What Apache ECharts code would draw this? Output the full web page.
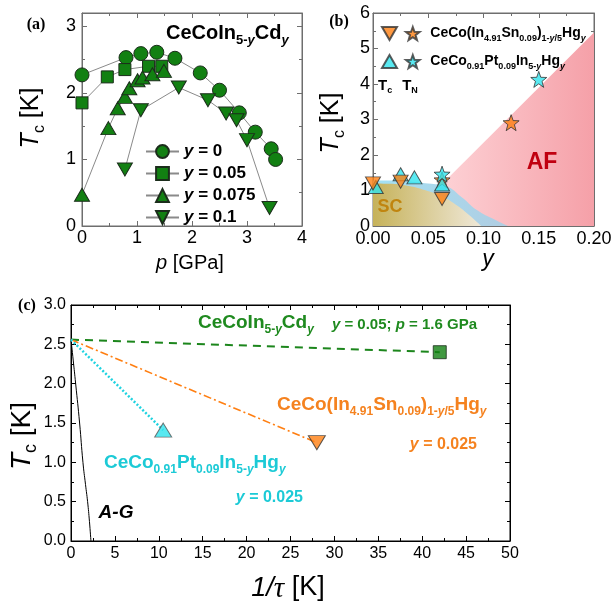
<!DOCTYPE html>
<html><head><meta charset="utf-8">
<script src="https://cdn.jsdelivr.net/npm/echarts@6/dist/echarts.min.js"></script>
<style>html,body{margin:0;padding:0;background:#fff}#c{width:613px;height:601px}</style>
</head><body><div id="c"></div><script>
// ---------- Panel (a): CeCoIn5-yCdy, Tc vs p ----------
const pY0 = [0.0, 0.80, 1.07, 1.36, 1.69, 2.15, 2.50, 2.86, 3.15, 3.44, 3.52];
const tcY0 = [2.27, 2.53, 2.59, 2.61, 2.52, 2.30, 2.04, 1.70, 1.41, 1.16, 1.00];
const pY005 = [0.0, 0.46, 0.78, 1.21, 1.45];
const tcY005 = [1.85, 2.24, 2.35, 2.40, 2.40];
const pY0075 = [0.0, 0.48, 0.65, 0.78, 0.86, 1.01, 1.10, 1.28, 1.49];
const tcY0075 = [0.47, 1.47, 1.77, 1.94, 2.07, 2.19, 2.23, 2.28, 2.33];
const pY01 = [0.78, 1.07, 1.76, 2.29, 2.62, 2.81, 3.00, 3.41];
const tcY01 = [0.85, 1.74, 2.08, 1.89, 1.69, 1.59, 1.29, 0.27];
const legendA = ['0', '0.05', '0.075', '0.1'];

// ---------- Panel (b): T vs y ----------
const ySnTc = [0.0, 0.025, 0.0625];
const tcSn = [1.20, 1.25, 0.76];
const ySnTn = [0.0625, 0.125];
const tnSn = [1.30, 2.91];
const yPtTc = [0.0025, 0.025, 0.0375, 0.0625];
const tcPt = [1.10, 1.46, 1.37, 1.17];
const yPtTn = [0.0625, 0.15];
const tnPt = [1.46, 4.13];
// phase regions
const afY = [0.0664, 0.2];
const afT = [1.30, 5.45];
const domeY = [0, 0.02, 0.035, 0.05, 0.066, 0.08, 0.094, 0.11, 0.122];
const domeT = [1.28, 1.28, 1.25, 1.20, 1.12, 0.82, 0.45, 0.18, 0];
const scY = [0, 0.015, 0.03, 0.045, 0.06, 0.075, 0.085, 0.098];
const scT = [1.20, 1.19, 1.14, 1.03, 0.87, 0.60, 0.36, 0];

// ---------- Panel (c): Tc vs 1/tau ----------
const tc0 = 2.56;
const invTauCd = [42], tcCdC = [2.40];
const invTauSn = [28], tcSnC = [1.25];
const invTauPt = [10.5], tcPtC = [1.41];
const agInvTau = [0, 0.25, 0.53, 0.98, 1.36, 1.65, 1.89, 2.10, 2.27];
const agTc = [2.56, 2.30, 2.00, 1.50, 1.00, 0.72, 0.50, 0.25, 0];

const zip = (a, b) => a.map((v, i) => [v, b[i]]);
const F = 'Liberation Sans', SERIF = 'Liberation Serif';
const GREEN = '#128012', ORANGE = '#ff7f12', CYAN = '#30e4ee';
const GTXT = '#1f8a1f', OTXT = '#f5821f', CTXT = '#1ccad6';
const DOWN = 'path://M0,0L20,0L10,17.3Z';
const STAR = 'path://M12,0.5L14.9,8.6L23.5,8.9L16.7,14.2L19.1,22.5L12,17.6L4.9,22.5L7.3,14.2L0.5,8.9L9.1,8.6Z';

function richSet(size, sub, color, bold) {
  const w = bold ? 'bold' : 'normal';
  const base = {fontFamily: F, color: color, fill: color, fontWeight: w, verticalAlign: 'top'};
  const pad = Math.round(size * 0.55);
  return {
    m: Object.assign({}, base, {fontSize: size, lineHeight: size}),
    mi: Object.assign({}, base, {fontSize: size, lineHeight: size, fontStyle: 'italic'}),
    s: Object.assign({}, base, {fontSize: sub, lineHeight: sub, padding: [pad, 0, 0, 0]}),
    si: Object.assign({}, base, {fontSize: sub, lineHeight: sub, fontStyle: 'italic', padding: [pad, 0, 0, 0]})
  };
}
const cdName = '{m|CeCoIn}{s|5-}{si|y}{m|Cd}{si|y}';
const snName = '{m|CeCo(In}{s|4.91}{m|Sn}{s|0.09}{m|)}{s|1-}{si|y}{s|/5}{m|Hg}{si|y}';
const ptName = '{m|CeCo}{s|0.91}{m|Pt}{s|0.09}{m|In}{s|5-}{si|y}{m|Hg}{si|y}';

function axisCommon(color, labelSize, showLabel) {
  return {
    axisLine: {show: true, onZero: false, lineStyle: {color: color, width: 1}},
    axisTick: {show: true, inside: true, length: 5, lineStyle: {color: color}},
    minorTick: {show: true, splitNumber: 2, length: 3, lineStyle: {color: color}},
    splitLine: {show: false},
    axisLabel: {show: showLabel, color: '#000', fontFamily: F, fontSize: labelSize}
  };
}
function xAx(grid, min, max, interval, color, size, pos, fmt, margin) {
  const a = Object.assign({type: 'value', gridIndex: grid, min: min, max: max, interval: interval, position: pos},
    axisCommon(color, size, pos === 'bottom'));
  a.axisLabel.margin = margin || 8;
  if (fmt) a.axisLabel.formatter = fmt;
  return a;
}
function yAx(grid, min, max, interval, color, size, pos, fmt, margin) {
  const a = Object.assign({type: 'value', gridIndex: grid, min: min, max: max, interval: interval, position: pos},
    axisCommon(color, size, pos === 'left'));
  a.axisLabel.margin = margin || 8;
  a.axisLabel.showMaxLabel = (max % interval === 0);
  if (fmt) a.axisLabel.formatter = fmt;
  return a;
}
const AX = '#6e6e6e';
const xAxis = [
  xAx(0, 0, 4, 1, AX, 18, 'bottom', null, 3),
  xAx(0, 0, 4, 1, AX, 18, 'top'),
  xAx(1, 0, 0.2, 0.05, AX, 18, 'bottom', v => v.toFixed(2), 4),
  xAx(1, 0, 0.2, 0.05, AX, 18, 'top'),
  xAx(2, 0, 50, 5, '#000', 16, 'bottom', null, 5),
  xAx(2, 0, 50, 5, '#000', 16, 'top')
];
const yAxis = [
  yAx(0, 0, 3.2, 1, AX, 18, 'left', null, 6),
  yAx(0, 0, 3.2, 1, AX, 18, 'right'),
  yAx(1, 0, 6, 1, AX, 18, 'left', null, 3),
  yAx(1, 0, 6, 1, AX, 18, 'right'),
  yAx(2, 0, 3, 0.5, '#000', 16, 'left', v => v.toFixed(1), 5),
  yAx(2, 0, 3, 0.5, '#000', 16, 'right')
];

const mk = {borderColor: '#1b2d1b', borderWidth: 1};
const lineA = {color: '#8a8a8a', width: 1};
const series = [
  // (a)
  {name: 'y0', type: 'line', xAxisIndex: 0, yAxisIndex: 0, data: zip(pY0, tcY0), symbol: 'circle', symbolSize: 14,
   itemStyle: Object.assign({color: GREEN}, mk), lineStyle: lineA, z: 5},
  {name: 'y005', type: 'line', xAxisIndex: 0, yAxisIndex: 0, data: zip(pY005, tcY005), symbol: 'rect', symbolSize: 12,
   itemStyle: Object.assign({color: GREEN}, mk), lineStyle: lineA, z: 5},
  {name: 'y0075', type: 'line', xAxisIndex: 0, yAxisIndex: 0, data: zip(pY0075, tcY0075), symbol: 'triangle', symbolSize: [15, 13],
   itemStyle: Object.assign({color: GREEN}, mk), lineStyle: lineA, z: 5},
  {name: 'y01', type: 'line', xAxisIndex: 0, yAxisIndex: 0, data: zip(pY01, tcY01), symbol: DOWN, symbolSize: [15, 13],
   itemStyle: Object.assign({color: GREEN}, mk), lineStyle: lineA, z: 5},
  // (b) regions
  {name: 'AF', type: 'line', xAxisIndex: 2, yAxisIndex: 2, data: zip(afY, afT), symbol: 'none', silent: true,
   lineStyle: {width: 0}, z: 1,
   areaStyle: {opacity: 1, color: new echarts.graphic.LinearGradient(0, 0, 1, 0, [{offset: 0, color: '#fdd0d4'}, {offset: 1, color: '#f5a0a8'}])}},
  {name: 'dome', type: 'line', xAxisIndex: 2, yAxisIndex: 2, data: zip(domeY, domeT), symbol: 'none', smooth: true, silent: true,
   lineStyle: {width: 0}, z: 2,
   areaStyle: {opacity: 1, color: new echarts.graphic.LinearGradient(0, 0, 1, 0, [{offset: 0, color: '#a3e1f4'}, {offset: 1, color: '#b0cde2'}])}},
  {name: 'SC', type: 'line', xAxisIndex: 2, yAxisIndex: 2, data: zip(scY, scT), symbol: 'none', smooth: true, silent: true,
   lineStyle: {width: 0}, z: 3,
   areaStyle: {opacity: 1, color: new echarts.graphic.LinearGradient(0, 0, 1, 0, [{offset: 0, color: '#c6b25a'}, {offset: 1, color: '#efe8d8'}])}},
  // (b) points
  {name: 'snTn', type: 'scatter', xAxisIndex: 2, yAxisIndex: 2, data: zip(ySnTn, tnSn), symbol: STAR, symbolSize: 16,
   itemStyle: {color: ORANGE, borderColor: '#333', borderWidth: 1}, z: 6},
  {name: 'ptTc', type: 'scatter', xAxisIndex: 2, yAxisIndex: 2, data: zip(yPtTc, tcPt), symbol: 'triangle', symbolSize: [15, 13],
   itemStyle: {color: CYAN, borderColor: '#333', borderWidth: 1}, z: 7},
  {name: 'snTc', type: 'scatter', xAxisIndex: 2, yAxisIndex: 2, data: zip(ySnTc, tcSn), symbol: DOWN, symbolSize: [15, 13],
   itemStyle: {color: ORANGE, borderColor: '#333', borderWidth: 1}, z: 8},
  {name: 'ptTn', type: 'scatter', xAxisIndex: 2, yAxisIndex: 2, data: zip(yPtTn, tnPt), symbol: STAR, symbolSize: 16,
   itemStyle: {color: CYAN, borderColor: '#333', borderWidth: 1}, z: 9},
  // (c)
  {name: 'AG', type: 'line', xAxisIndex: 4, yAxisIndex: 4, data: zip(agInvTau, agTc), symbol: 'none', smooth: true,
   lineStyle: {color: '#000', width: 1}},
  {name: 'cdLine', type: 'line', xAxisIndex: 4, yAxisIndex: 4, data: [[0, tc0]].concat(zip(invTauCd, tcCdC)), symbol: 'none',
   lineStyle: {color: '#1c861c', width: 2, type: [8, 6]}},
  {name: 'snLine', type: 'line', xAxisIndex: 4, yAxisIndex: 4, data: [[0, tc0]].concat(zip(invTauSn, tcSnC)), symbol: 'none',
   lineStyle: {color: ORANGE, width: 1.6, type: [8, 3, 2, 3]}},
  {name: 'ptLine', type: 'line', xAxisIndex: 4, yAxisIndex: 4, data: [[0, tc0]].concat(zip(invTauPt, tcPtC)), symbol: 'none',
   lineStyle: {color: '#1fd3e0', width: 2.5, type: [2, 2]}},
  {name: 'cdPt', type: 'scatter', xAxisIndex: 4, yAxisIndex: 4, data: zip(invTauCd, tcCdC), symbol: 'rect', symbolSize: 13,
   itemStyle: {color: GREEN, borderColor: '#1b2d1b', borderWidth: 1}, z: 6},
  {name: 'snPt', type: 'scatter', xAxisIndex: 4, yAxisIndex: 4, data: zip(invTauSn, tcSnC), symbol: DOWN, symbolSize: [17, 14],
   itemStyle: {color: ORANGE, borderColor: '#333', borderWidth: 1}, z: 6},
  {name: 'ptPt', type: 'scatter', xAxisIndex: 4, yAxisIndex: 4, data: zip(invTauPt, tcPtC), symbol: 'triangle', symbolSize: [17, 14],
   itemStyle: {color: CYAN, borderColor: '#555', borderWidth: 1}, z: 6}
];

const richLegA = {
  i: {fontFamily: F, fontSize: 17, fontWeight: 'bold', fontStyle: 'italic', color: '#000'},
  n: {fontFamily: F, fontSize: 17, fontWeight: 'bold', color: '#000'}
};
const richLegB = richSet(14, 9, '#000', true);
const legend = [
  {data: ['y0', 'y005', 'y0075', 'y01'], orient: 'vertical', left: 140, top: 138, itemWidth: 33, itemHeight: 16, itemGap: 5,
   selectedMode: false, formatter: n => '{i|y}{n| = ' + legendA[['y0', 'y005', 'y0075', 'y01'].indexOf(n)] + '}',
   textStyle: {rich: richLegA}},
  {data: ['snTc', 'snTn'], orient: 'horizontal', left: 376, top: 21, itemWidth: 15, itemHeight: 13, itemGap: 7, selectedMode: false,
   formatter: n => n === 'snTc' ? '' : snName.replace('{m|CeCo(', '{p|}{m|CeCo('),
   textStyle: {rich: Object.assign({p: {width: 5}}, richLegB)}},
  {data: ['ptTc', 'ptTn'], orient: 'horizontal', left: 376, top: 49, itemWidth: 15, itemHeight: 13, itemGap: 7, selectedMode: false,
   formatter: n => n === 'ptTc' ? '' : ptName.replace('{m|CeCo}', '{p|}{m|CeCo}'),
   textStyle: {rich: Object.assign({p: {width: 5}}, richLegB)}}
];

function txt(x, y, text, rich, align, rot) {
  return {type: 'text', x: x, y: y, rotation: rot || 0, z: 100,
    style: {text: text, rich: rich, align: align || 'left', verticalAlign: 'middle'}};
}
const axisTitleRich = (size, sub) => ({
  i: {fontFamily: F, fontSize: size, fontStyle: 'italic', lineHeight: size, verticalAlign: 'top', fill: '#000'},
  n: {fontFamily: F, fontSize: size, lineHeight: size, verticalAlign: 'top', fill: '#000'},
  s: {fontFamily: F, fontSize: sub, lineHeight: sub, verticalAlign: 'top', padding: [Math.round(size * 0.5), 0, 0, 0], fill: '#000'},
  t: {fontFamily: SERIF, fontSize: size + 2, fontStyle: 'italic', lineHeight: size, verticalAlign: 'top', fill: '#000'}
});
const panelRich = {p: {fontFamily: SERIF, fontSize: 16, fontWeight: 'bold', fill: '#000'}};
const one = (size, color, extra) => ({a: Object.assign({fontFamily: F, fontSize: size, fontWeight: 'bold', fill: color}, extra || {})});
const graphic = [
  txt(36, 25, '{p|(a)}', panelRich, 'center'),
  txt(339, 22, '{p|(b)}', panelRich, 'center'),
  txt(27, 306, '{p|(c)}', panelRich, 'center'),
  // axis titles
  txt(31, 118, '{i|T}{s|c}{n| [K]}', axisTitleRich(25, 16), 'center', Math.PI / 2),
  txt(190, 263, '{i|p}{n| [GPa]}', axisTitleRich(20, 13), 'center'),
  txt(331, 123, '{i|T}{s|c}{n| [K]}', axisTitleRich(25, 16), 'center', Math.PI / 2),
  txt(488, 260, '{i|y}', axisTitleRich(23, 14), 'center'),
  txt(22, 436, '{i|T}{s|c}{n| [K]}', axisTitleRich(28, 18), 'center', Math.PI / 2),
  txt(288, 588, '{i|1/}{t|τ}{n| [K]}', axisTitleRich(27, 16), 'center'),
  // panel a title
  txt(166, 33, cdName, richSet(20, 13, '#000', true), 'left'),
  // panel b labels
  txt(378, 86, '{m|T}{s|c}{p|}{m|T}{s|N}', Object.assign({p: {width: 10}}, richSet(15, 9, '#000', true)), 'left'),
  txt(390, 207, '{a|SC}', one(18, '#c0850f'), 'center'),
  txt(542, 163, '{a|AF}', one(23, '#c00010'), 'center'),
  // panel c labels
  txt(198, 323, cdName, richSet(19, 12, GTXT, true), 'left'),
  txt(477, 325, '{mi|y}{m| = 0.05; }{mi|p}{m| = 1.6 GPa}', richSet(15, 10, GTXT, true), 'right'),
  txt(277, 405, snName, richSet(19, 12, OTXT, true), 'left'),
  txt(477, 445, '{mi|y}{m| = 0.025}', richSet(16, 10, OTXT, true), 'right'),
  txt(104, 463, ptName, richSet(19, 12, CTXT, true), 'left'),
  txt(303, 498, '{mi|y}{m| = 0.025}', richSet(16, 10, CTXT, true), 'right'),
  txt(116, 513, '{a|A-G}', one(19, '#000', {fontStyle: 'italic'}), 'center')
];

const chart = echarts.init(document.getElementById('c'), null, {renderer: 'canvas'});
chart.setOption({
  animation: false,
  backgroundColor: '#fff',
  grid: [
    {left: 82, top: 13, width: 220, height: 213, show: true, borderColor: AX, borderWidth: 1, backgroundColor: 'transparent', outerBoundsMode: 'none', containLabel: false},
    {left: 373, top: 13, width: 221, height: 213, show: true, borderColor: AX, borderWidth: 1, backgroundColor: 'transparent', outerBoundsMode: 'none', containLabel: false},
    {left: 71, top: 305, width: 439, height: 236, show: true, borderColor: '#000', borderWidth: 1, backgroundColor: 'transparent', outerBoundsMode: 'none', containLabel: false}
  ],
  xAxis: xAxis,
  yAxis: yAxis,
  legend: legend,
  series: series,
  graphic: graphic
});
</script></body></html>
